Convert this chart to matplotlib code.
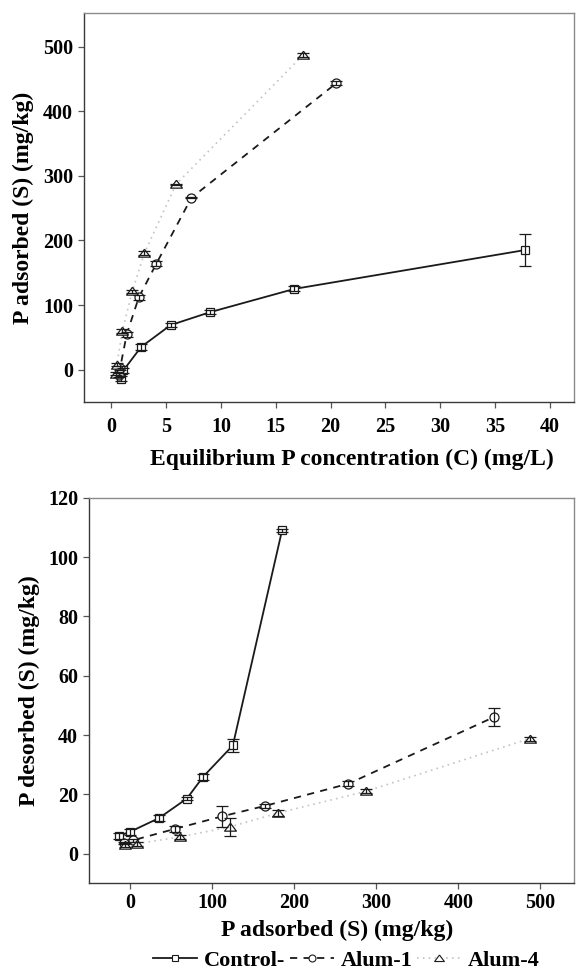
import numpy as np
import matplotlib
matplotlib.use("Agg")
import matplotlib.pyplot as plt
from matplotlib.lines import Line2D

plt.rcParams['font.family'] = ['Liberation Serif', 'DejaVu Serif']
plt.rcParams['font.weight'] = 'bold'

# Adsorption isotherm data: equilibrium C (mg/L) vs adsorbed S (mg/kg)
ctrl_C = [0.9, 1.1, 2.7, 5.4, 9.0, 16.7, 37.7]
ctrl_S = [-14, -1, 35, 69, 89, 125, 185]
ctrl_S_err = [4, 4, 4, 3, 3, 4, 25]

alum1_C = [0.7, 0.8, 1.4, 2.5, 4.1, 7.3, 20.5]
alum1_S = [-8, 3, 55, 112, 164, 266, 443]
alum1_S_err = [3, 3, 4, 4, 4, 1, 3]

alum4_C = [0.4, 0.5, 1.0, 1.9, 3.0, 5.9, 17.5]
alum4_S = [-6, 8, 60, 121, 180, 287, 487]
alum4_S_err = [3, 3, 3, 3, 3, 1, 3]

# Desorption data: P desorbed (mg/kg) vs adsorbed S
ctrl_D = [6, 7.3, 12, 18.6, 26, 36.5, 109]
ctrl_D_err = [1, 1, 1, 0.6, 1, 2.2, 0.6]
alum1_D = [3.6, 4.5, 8.4, 12.6, 16.1, 23.6, 46]
alum1_D_err = [0.5, 0.5, 1, 3.5, 0.6, 0.8, 3]
alum4_D = [2.8, 3.4, 5.6, 9, 13.7, 21, 38.8]
alum4_D_err = [0.7, 0.7, 0.8, 3, 1, 0.7, 0.7]

series_names = ['Control-', 'Alum-1', 'Alum-4']

# wide, flat triangle like the original symbol
tri = [(0, 0.72), (-1, -0.62), (1, -0.62), (0, 0.72)]

# styles
st_ctrl = dict(color='#1a1a1a', lw=1.3, ls='-', marker='s', ms=5.5)
st_a1 = dict(color='#1a1a1a', lw=1.3, ls=(0, (4, 3.5)), marker='o', ms=6.5)
st_a4 = dict(color='#c4c4c4', lw=1.2, ls=(0, (1, 2.5)), marker=tri, ms=8.5)
styles = [st_ctrl, st_a1, st_a4]


def draw(ax, xs, ys, errs):
    for x, y, e, st in zip(xs, ys, errs, styles):
        ax.plot(x, y, color=st['color'], lw=st['lw'], ls=st['ls'], zorder=2)
        ax.plot(x, y, ls='none', marker=st['marker'], ms=st['ms'],
                mfc='white', mec='#1a1a1a', mew=0.9, zorder=3)
        ax.errorbar(x, y, yerr=e, fmt='none', ecolor='#1a1a1a',
                    elinewidth=0.9, capsize=4, capthick=0.9, zorder=4)


def style_axes(ax, xpad):
    for s in ['top', 'right']:
        ax.spines[s].set_color('#8a8a8a')
    for s in ['left', 'bottom']:
        ax.spines[s].set_color('#3a3a3a')
    for s in ax.spines.values():
        s.set_linewidth(1.0)
    ax.tick_params(direction='out', length=4, width=0.9, color='#555555',
                   labelsize=14.5)
    ax.tick_params(axis='y', pad=4)
    ax.tick_params(axis='x', pad=xpad)
    for lab in ax.get_xticklabels() + ax.get_yticklabels():
        lab.set_fontweight('bold')


fig = plt.figure(figsize=(5.77, 9.75), dpi=100)

ax1 = fig.add_axes([0.1456, 0.5877, 0.849, 0.399])
draw(ax1, [ctrl_C, alum1_C, alum4_C], [ctrl_S, alum1_S, alum4_S],
     [ctrl_S_err, alum1_S_err, alum4_S_err])
ax1.set_xlim(-2.5, 42.2)
ax1.set_ylim(-50, 552)
ax1.set_xticks(np.arange(0, 41, 5))
ax1.set_yticks(np.arange(0, 501, 100))
ax1.set_xlabel('Equilibrium P concentration (C) (mg/L)', fontsize=17,
               fontweight='bold', labelpad=8)
ax1.xaxis.label.set_x(0.547)
ax1.set_ylabel('P adsorbed (S) (mg/kg)', fontsize=17, fontweight='bold',
               labelpad=6)
style_axes(ax1, 7)

ax2 = fig.add_axes([0.1548, 0.094, 0.840, 0.3955])
draw(ax2, [ctrl_S, alum1_S, alum4_S], [ctrl_D, alum1_D, alum4_D],
     [ctrl_D_err, alum1_D_err, alum4_D_err])
ax2.set_xlim(-50, 541)
ax2.set_ylim(-10, 120)
ax2.set_xticks(np.arange(0, 501, 100))
ax2.set_yticks(np.arange(0, 121, 20))
ax2.set_xlabel('P adsorbed (S) (mg/kg)', fontsize=17, fontweight='bold',
               labelpad=5)
ax2.xaxis.label.set_x(0.512)
ax2.set_ylabel('P desorbed (S) (mg/kg)', fontsize=17, fontweight='bold',
               labelpad=6)
style_axes(ax2, 3)

handles = [Line2D([], [], color=st['color'], lw=st['lw'], ls=st['ls'],
                  marker=st['marker'], ms=st['ms'] - 1.5, mfc='white',
                  mec='#1a1a1a', mew=0.8) for st in styles]
fig.legend(handles, series_names, loc='center', bbox_to_anchor=(0.6, 0.0145),
           ncol=3, frameon=False, handlelength=2.0, handletextpad=0.3,
           columnspacing=0.2, borderpad=0.1,
           prop={'size': 16, 'weight': 'bold'})

fig.savefig('out.png', dpi=100)
